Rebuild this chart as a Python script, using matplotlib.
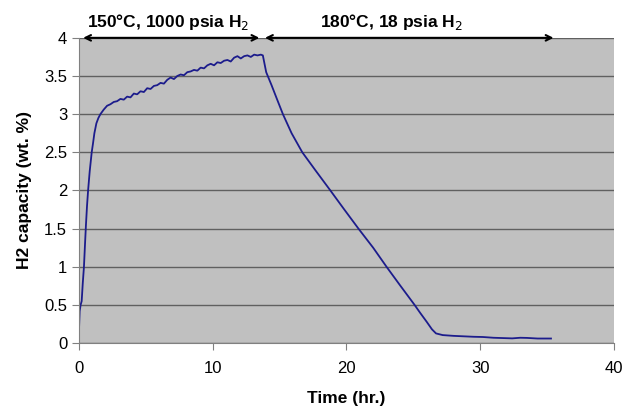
import matplotlib
matplotlib.use("Agg")
import matplotlib.pyplot as plt

plt.rcParams['font.family'] = ['Liberation Sans', 'DejaVu Sans']

# time (hr.) and H2 capacity (wt. %)
time_hr = [0.0, 0.05, 0.12, 0.2, 0.28, 0.37, 0.45, 0.52, 0.6, 0.68, 0.8, 0.95, 1.05, 1.15, 1.3, 1.45,
           1.6, 1.85, 2.1, 2.35, 2.6, 2.85, 3.1, 3.35, 3.6, 3.85, 4.1, 4.35, 4.6, 4.85, 5.1, 5.35,
           5.6, 5.85, 6.1, 6.35, 6.6, 6.85, 7.1, 7.35, 7.6, 7.85, 8.1, 8.35, 8.6, 8.85, 9.1, 9.35,
           9.6, 9.85, 10.1, 10.35, 10.6, 10.85, 11.1, 11.35, 11.6, 11.85, 12.1, 12.35, 12.6, 12.85,
           13.1, 13.35, 13.6, 13.75,
           14.0, 14.4, 14.8, 15.25, 15.9, 16.7, 17.7, 18.8, 19.8, 20.9, 22.0, 23.0, 24.0, 25.1,
           25.5, 26.0, 26.4, 26.7, 27.2, 28.0, 29.5, 30.2, 31.0, 32.4, 33.0, 33.5, 34.3, 35.3]
capacity = [0.18, 0.42, 0.5, 0.55, 0.78, 1.0, 1.3, 1.55, 1.8, 2.0, 2.25, 2.5, 2.62, 2.75, 2.88, 2.95,
            3.00, 3.06, 3.11, 3.13, 3.16, 3.17, 3.20, 3.19, 3.23, 3.22, 3.27, 3.26, 3.30, 3.29, 3.34, 3.33,
            3.37, 3.38, 3.41, 3.40, 3.45, 3.48, 3.46, 3.50, 3.52, 3.51, 3.55, 3.56, 3.58, 3.57, 3.61, 3.60,
            3.64, 3.66, 3.64, 3.68, 3.67, 3.70, 3.71, 3.69, 3.74, 3.76, 3.73, 3.76, 3.77, 3.75,
            3.78, 3.77, 3.78, 3.77,
            3.55, 3.38, 3.2, 3.0, 2.75, 2.5, 2.26, 2.0, 1.76, 1.5, 1.25, 1.0, 0.76, 0.5,
            0.4, 0.28, 0.18, 0.127, 0.105, 0.095, 0.083, 0.08, 0.07, 0.062, 0.07, 0.068, 0.06, 0.06]

fig = plt.figure(figsize=(6.27, 4.07), dpi=100)
ax = fig.add_axes([0.126, 0.157, 0.853, 0.75])
ax.set_facecolor('#c0c0c0')

ax.plot(time_hr, capacity, color='#1c1c8c', linewidth=1.3)

ax.set_xlim(0, 40)
ax.set_ylim(0, 4)
ax.set_xticks([0, 10, 20, 30, 40])
ax.set_yticks([0, 0.5, 1, 1.5, 2, 2.5, 3, 3.5, 4])
ax.set_yticklabels(['0', '0.5', '1', '1.5', '2', '2.5', '3', '3.5', '4'])
ax.grid(axis='y', color='#606060', linewidth=1.0)
ax.set_axisbelow(True)
for s in ['top', 'right']:
    ax.spines[s].set_visible(False)
for s in ['left', 'bottom']:
    ax.spines[s].set_color('#808080')
ax.tick_params(axis='both', colors='#808080', labelcolor='black', labelsize=12, length=5)
ax.tick_params(axis='x', pad=8)

ax.set_xlabel('Time (hr.)', fontsize=12.5, fontweight='bold', labelpad=11)
ax.set_ylabel('H2 capacity (wt. %)', fontsize=12.5, fontweight='bold', labelpad=9)

# condition arrows and labels
ax.annotate('', xy=(0.1, 4.0), xytext=(13.7, 4.0),
            arrowprops=dict(arrowstyle='<->', color='black', lw=1.5), annotation_clip=False)
ax.annotate('', xy=(13.7, 4.0), xytext=(35.7, 4.0),
            arrowprops=dict(arrowstyle='<->', color='black', lw=1.5), annotation_clip=False)
ax.text(6.65, 4.08, '150°C, 1000 psia H$_2$', ha='center', va='bottom', fontsize=12.5, fontweight='bold')
ax.text(23.4, 4.08, '180°C, 18 psia H$_2$', ha='center', va='bottom', fontsize=12.5, fontweight='bold')

fig.savefig('out.png', dpi=100)
